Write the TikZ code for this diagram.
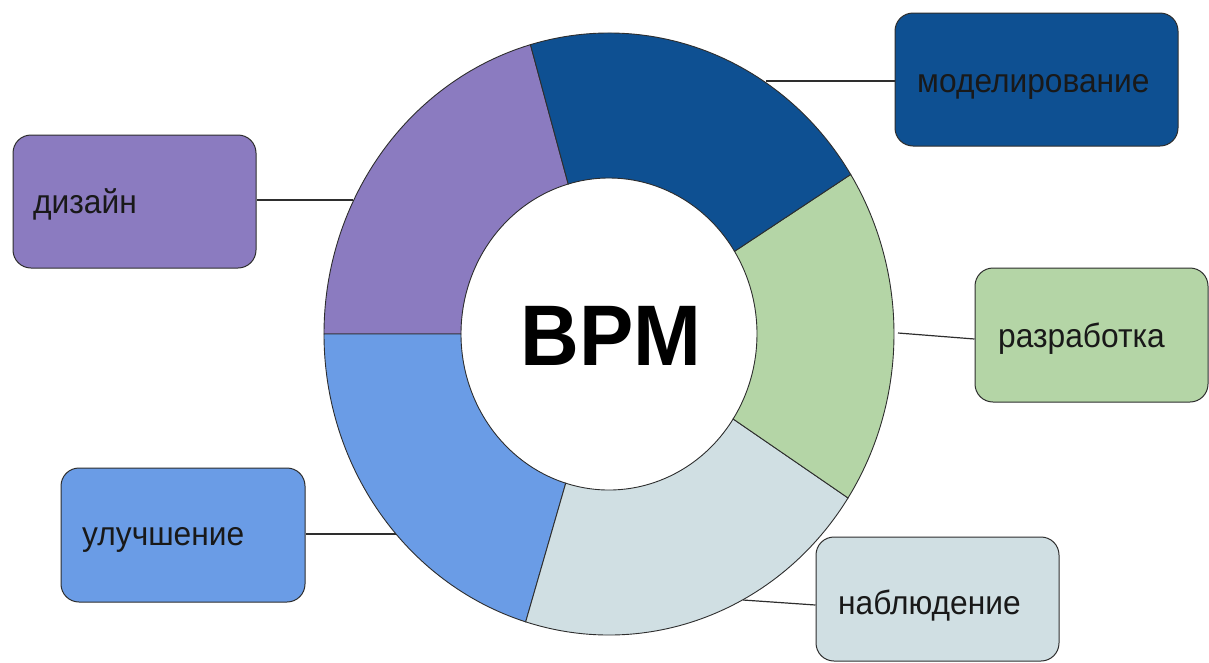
\documentclass[tikz,border=0pt]{standalone}
\usepackage{fontspec}
\setmainfont{Liberation Sans}
\usetikzlibrary{calc}
\definecolor{cpurple}{HTML}{8B7BC0}
\definecolor{cdark}{HTML}{0E5092}
\definecolor{cgreen}{HTML}{B4D5A6}
\definecolor{cgray}{HTML}{D0DFE3}
\definecolor{cblue}{HTML}{6A9CE6}
\definecolor{cline}{HTML}{2E2E2E}
\newcommand\ringseg[3]{%
  \filldraw[segline, fill=#3] ($(C)+(#1:285 and 301)$)
    arc[start angle=#1, end angle=#2, x radius=285, y radius=301]
    -- ($(C)+(#2:148 and 156)$)
    arc[start angle=#2, end angle=#1, x radius=148, y radius=156] -- cycle;}
\newcommand\lbltext[1]{\scalebox{0.947}[1]{#1}}
\tikzset{
  segline/.style={draw=cline, line width=0.9pt},
  boxnode/.style={draw=cline, line width=1pt, rounded corners=18pt, inner sep=0pt},
  lbl/.style={anchor=base west, inner sep=0pt, text=black!90, font=\fontsize{33.5}{36}\selectfont},
  conn/.style={draw=cline, line width=1.2pt}
}
\begin{document}
\begin{tikzpicture}[x=1pt,y=1pt]
\useasboundingbox (0,0) rectangle (1209,-662);
\coordinate (C) at (609,-334);

% boxes
\node[boxnode, fill=cpurple, minimum width=243pt, minimum height=133pt] (dz) at (134.5,-201.5) {};
\node[boxnode, fill=cdark, minimum width=283pt, minimum height=133pt] (md) at (1036.5,-79.5) {};
\node[boxnode, fill=cgreen, minimum width=233pt, minimum height=134pt] (rz) at (1091.5,-335) {};
\node[boxnode, fill=cblue, minimum width=244pt, minimum height=134pt] (ul) at (183,-535) {};
\node[boxnode, fill=cgray, minimum width=243pt, minimum height=124pt] (nb) at (937.5,-599) {};

% connector ends on ring
\coordinate (dzr) at (353,-200);
\coordinate (mdr) at (766,-81);
\coordinate (rzr) at (898,-333);
\coordinate (ulr) at (397,-534);
\coordinate (nbr) at (743,-600);

\draw[conn] (dzr) -- (dzr -| dz.east);
\draw[conn] (mdr) -- (mdr -| md.west);
\draw[conn] (rzr) -- ([yshift=-4pt]rz.west);
\draw[conn] (ulr) -- (ulr -| ul.east);
\draw[conn] (nbr) -- ([yshift=-6pt]nb.west);

% ring
\ringseg{106}{180}{cpurple}
\ringseg{180}{253}{cblue}
\ringseg{253}{327}{cgray}
\ringseg{327}{392}{cgreen}
\ringseg{32}{106}{cdark}

\node[inner sep=0pt, font=\fontsize{86}{90}\selectfont\bfseries] (bpm) at (611,-336) {\lbltext{BPM}};

% labels
\node[lbl] (dzt) at (33,-213) {\lbltext{дизайн}};
\node[lbl] (mdt) at (917,-92) {\lbltext{моделирование}};
\node[lbl] (rzt) at (998,-347) {\lbltext{разработка}};
\node[lbl] (ult) at (82,-545) {\lbltext{улучшение}};
\node[lbl] (nbt) at (838,-614) {\lbltext{наблюдение}};
\end{tikzpicture}
\end{document}
